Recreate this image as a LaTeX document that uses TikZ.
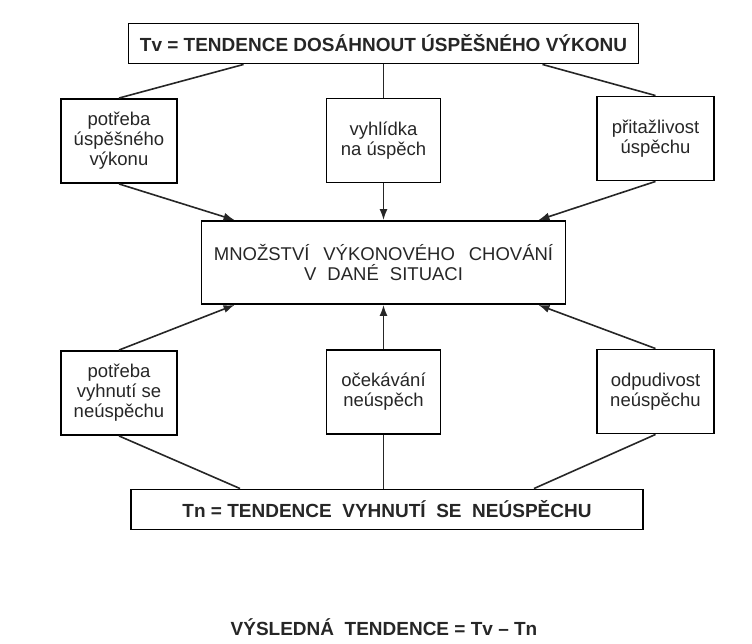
\documentclass[tikz,border=0pt]{standalone}
\usepackage{fontspec}
\setmainfont{Liberation Sans}
\usetikzlibrary{arrows.meta}

\begin{document}
\begin{tikzpicture}[x=1pt,y=-1pt,
  every node/.style={font=\fontsize{18.5}{20}\selectfont, text=black!85},
  box/.style={draw, line width=1.9pt, align=center, inner sep=0pt,
    minimum width=116pt, minimum height=84pt},
  bar/.style={draw, line width=1.9pt, inner sep=0pt, minimum height=40pt,
    font=\bfseries\fontsize{19}{21}\selectfont},
  link/.style={line width=1.6pt, black!85},
  feed/.style={line width=1.6pt, black!85, -{Latex[length=11pt,width=8pt]}}]
  \useasboundingbox (0,0) rectangle (752,644);

  % top and bottom tendencies
  \node[bar, minimum width=510pt] (tv) at (383.5,43.5)
    {Tv = TENDENCE DOSÁHNOUT ÚSPĚŠNÉHO VÝKONU};
  \node[bar, minimum width=512pt] (tn) at (387,509.5)
    {Tn = TENDENCE\ \ VYHNUTÍ\ \ SE\ \ NEÚSPĚCHU};

  % factors of success
  \node[box] (pu) at (119,141) {potřeba\\úspěšného\\výkonu};
  \node[box, minimum width=114pt] (vu) at (383.5,140.5) {vyhlídka\\na úspěch};
  \node[box, minimum width=117pt] (pr) at (655.5,138.5) {přitažlivost\\úspěchu};

  % behaviour
  \node[draw, line width=1.9pt, align=center, inner sep=0pt,
    minimum width=364pt, minimum height=83pt,
    font=\fontsize{18.5}{20}\selectfont] (mn) at (383.5,262.5)
    {MNOŽSTVÍ\hspace{0.75em}VÝKONOVÉHO\hspace{0.75em}CHOVÁNÍ\\V\hspace{0.6em}DANÉ\hspace{0.6em}SITUACI};

  % factors of failure
  \node[box] (pn) at (119,393) {potřeba\\vyhnutí se\\neúspěchu};
  \node[box, minimum width=114pt] (on) at (383.5,392) {očekávání\\neúspěch};
  \node[box, minimum width=117pt] (od) at (655.5,391.5) {odpudivost\\neúspěchu};

  \node[font=\bfseries\fontsize{19}{21}\selectfont] (vt) at (384,627)
    {VÝSLEDNÁ\ \ TENDENCE = Tv – Tn};

  % upper half
  \draw[link] ([xshift=116pt]tv.south west) -- (pu.north);
  \draw[link] (tv.south) -- (vu.north);
  \draw[link] ([xshift=-97pt]tv.south east) -- (pr.north);
  \draw[feed] (pu.south) -- ([xshift=34pt]mn.north west);
  \draw[feed] (vu.south) -- (mn.north);
  \draw[feed] (pr.south) -- ([xshift=-28pt]mn.north east);

  % lower half
  \draw[feed] (pn.north) -- ([xshift=34pt]mn.south west);
  \draw[feed] (on.north) -- (mn.south);
  \draw[feed] (od.north) -- ([xshift=-28pt]mn.south east);
  \draw[link] (pn.south) -- ([xshift=110pt]tn.north west);
  \draw[link] (on.south) -- (on.south |- tn.north);
  \draw[link] (od.south) -- ([xshift=-110pt]tn.north east);
\end{tikzpicture}
\end{document}
